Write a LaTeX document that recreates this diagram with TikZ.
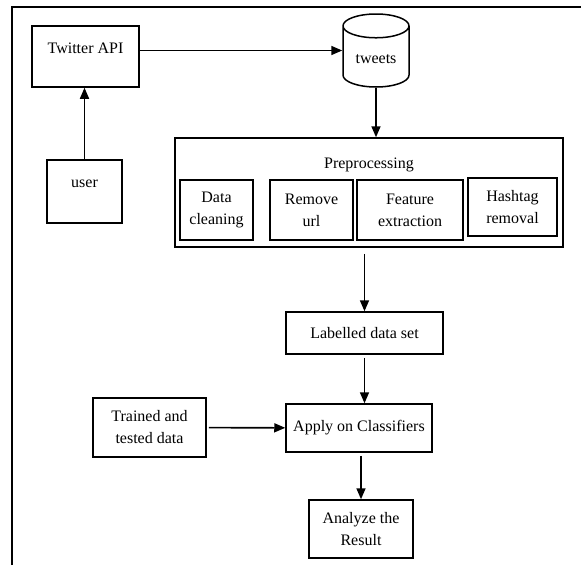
\documentclass[tikz,border=0pt]{standalone}
\usepackage{fontspec}
\setmainfont{Liberation Serif}
\usetikzlibrary{positioning, arrows.meta, shapes.geometric}

\begin{document}
\begin{tikzpicture}[x=1pt, y=-1pt, font=\fontsize{16}{22}\selectfont,
  box/.style={draw, line width=1.5pt, align=center, inner sep=4pt},
  tallbox/.style={box, text height=23pt},
  arr/.style={-{Triangle[length=11pt,width=9pt]}, line width=1.6pt}]
  \useasboundingbox (0,0) rectangle (581,565);
  % frame
  \draw[line width=1.8pt] (12,565) -- (12,7) -- (581,7);

  % sources
  \node[tallbox, minimum width=107pt, text depth=30pt] (api) at (85.5,56.5) {Twitter API};
  \node[tallbox, minimum width=75pt, text depth=32pt] (user) at (84.5,191.5) {user};
  \node[draw, line width=1.5pt, cylinder, shape border rotate=90, aspect=0.5,
        minimum width=66pt, minimum height=73pt, anchor=shape center] (tweets) at (376,50.5) {tweets};

  % preprocessing
  \node[box, minimum width=388pt, text height=26pt, text depth=75pt] (prep) at (369,192.5) {Preprocessing};
  \node[box, minimum width=73pt, minimum height=60pt] (clean) at (216.5,210) {Data\\cleaning};
  \node[box, minimum width=83pt, minimum height=60pt] (url) at (311.5,210) {Remove\\url};
  \node[box, minimum width=106pt, minimum height=60pt] (feat) at (410,210) {Feature\\extraction};
  \node[box, minimum width=89pt, minimum height=58pt] (hash) at (512.5,207) {Hashtag\\removal};

  % classification
  \node[box, minimum width=157pt, minimum height=42pt] (lab) at (364.5,333) {Labelled data set};
  \node[box, minimum width=146pt, minimum height=48pt] (apply) at (359,428) {Apply on Classifiers};
  \node[box, minimum width=113pt, minimum height=59pt] (train) at (149.5,427.5) {Trained and\\tested data};
  \node[box, minimum width=104pt, minimum height=58pt] (res) at (361,529) {Analyze the\\Result};

  \draw[arr] (api.east |- tweets.shape center) -- (tweets.west |- tweets.shape center);
  \draw[arr] (user.north) -- (user.north |- api.south);
  \draw[arr] (tweets.south) -- (tweets.south |- prep.north);
  \draw[arr, shorten <=6pt] (prep.south -| lab.north) -- (lab.north);
  \draw[arr, shorten <=3pt] (lab.south) -- (lab.south |- apply.north);
  \draw[arr, shorten <=2pt] (train) -- (apply);
  \draw[arr, shorten <=3pt] (apply.south -| res.north) -- (res.north);
\end{tikzpicture}
\end{document}
